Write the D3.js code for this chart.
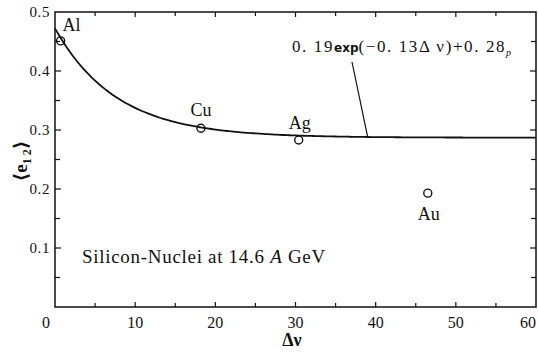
<!DOCTYPE html>
<html>
<head>
<meta charset="utf-8">
<script src="https://cdn.jsdelivr.net/npm/d3@7"></script>
<style>
  body { margin: 0; background: #fff; }
  text { font-family: "Liberation Serif", "DejaVu Serif", serif; fill: #111; }
</style>
</head>
<body>
<svg id="chart" width="538" height="355"></svg>
<script>
// data
const nuclei = ["Al", "Cu", "Ag", "Au"];
const deltaNu = [0.7, 18.2, 30.4, 46.5];
const e12 = [0.451, 0.303, 0.283, 0.193];
// fitted curve as drawn: a*exp(-b*dv)+c
const fitA = 0.185, fitB = 0.13, fitC = 0.287;
const xTicks = [0, 10, 20, 30, 40, 50, 60];
const yTicks = [0.1, 0.2, 0.3, 0.4, 0.5];

const plotL = 55, plotR = 536, plotT = 12, plotB = 307;

const svg = d3.select("#chart");
const x = d3.scaleLinear().domain([0, 60]).range([plotL, plotR]);
const y = d3.scaleLinear().domain([0, 0.5]).range([plotB, plotT]);

// frame
svg.append("rect")
  .attr("x", plotL).attr("y", plotT)
  .attr("width", plotR - plotL).attr("height", plotB - plotT)
  .attr("fill", "none").attr("stroke", "#111").attr("stroke-width", 1.5);

// inward ticks on all four sides
const minorX = d3.range(5, 60, 5);
const minorY = d3.range(0.05, 0.5, 0.05);
minorX.forEach(v => {
  const len = v % 10 === 0 ? 5 : 4;
  svg.append("line").attr("x1", x(v)).attr("x2", x(v))
    .attr("y1", plotB).attr("y2", plotB - len)
    .attr("stroke", "#111").attr("stroke-width", 1.2);
  svg.append("line").attr("x1", x(v)).attr("x2", x(v))
    .attr("y1", plotT).attr("y2", plotT + len)
    .attr("stroke", "#111").attr("stroke-width", 1.2);
});
minorY.forEach(v => {
  const major = Math.abs(v * 10 - Math.round(v * 10)) < 1e-6;
  const len = major ? 6 : 5;
  svg.append("line").attr("x1", plotL).attr("x2", plotL + len)
    .attr("y1", y(v)).attr("y2", y(v))
    .attr("stroke", "#111").attr("stroke-width", 1.2);
  svg.append("line").attr("x1", plotR).attr("x2", plotR - len)
    .attr("y1", y(v)).attr("y2", y(v))
    .attr("stroke", "#111").attr("stroke-width", 1.2);
});

// tick labels
svg.selectAll(".xl").data(xTicks).enter().append("text")
  .attr("x", d => x(d) - (d === 0 ? 9 : d === 60 ? 8 : 0))
  .attr("y", plotB + 21)
  .attr("text-anchor", "middle")
  .attr("font-size", "16px")
  .text(d => d);

svg.selectAll(".yl").data(yTicks).enter().append("text")
  .attr("x", plotL - 5)
  .attr("y", d => y(d) + 5)
  .attr("text-anchor", "end")
  .attr("font-size", "15px")
  .attr("letter-spacing", "0.6")
  .text(d => d.toFixed(1));

// axis titles
svg.append("text")
  .attr("x", 292).attr("y", 346)
  .attr("text-anchor", "middle")
  .attr("font-size", "18px")
  .attr("font-weight", "bold")
  .text("Δν");

const yl = svg.append("text")
  .attr("transform", "translate(27,161) rotate(-90)")
  .attr("text-anchor", "middle")
  .attr("font-size", "19px")
  .attr("font-weight", "bold");
yl.append("tspan").text("⟨e");
yl.append("tspan").attr("font-size", "12px").attr("dy", 4).text("1 2");
yl.append("tspan").attr("dy", -4).text("⟩");

// fitted curve
const curveX = d3.range(0, 60.01, 0.5);
const line = d3.line()
  .x(d => x(d))
  .y(d => y(fitA * Math.exp(-fitB * d) + fitC))
  .curve(d3.curveBasis);
svg.append("path")
  .datum(curveX)
  .attr("d", line)
  .attr("fill", "none")
  .attr("stroke", "#111")
  .attr("stroke-width", 1.8);

// data points
svg.selectAll(".pt").data(deltaNu).enter().append("circle")
  .attr("cx", d => x(d))
  .attr("cy", (d, i) => y(e12[i]))
  .attr("r", 4)
  .attr("fill", "none")
  .attr("stroke", "#111")
  .attr("stroke-width", 1.4);

// point labels
const labelDx = [11, 0, 1, 1];
const labelDy = [-10, -12, -11, 27];
svg.selectAll(".nl").data(nuclei).enter().append("text")
  .attr("x", (d, i) => x(deltaNu[i]) + labelDx[i])
  .attr("y", (d, i) => y(e12[i]) + labelDy[i])
  .attr("text-anchor", "middle")
  .attr("font-size", "18px")
  .text(d => d);

// formula annotation with leader line
svg.append("line")
  .attr("x1", 352).attr("y1", 62)
  .attr("x2", x(39)).attr("y2", y(fitA * Math.exp(-fitB * 39) + fitC))
  .attr("stroke", "#111").attr("stroke-width", 1.2);

const f = svg.append("text")
  .attr("x", 292).attr("y", 52)
  .attr("font-size", "17px")
  .attr("letter-spacing", "1.6");
f.append("tspan").text("0. 19");
f.append("tspan").attr("font-size", "12px").attr("font-weight", "bold")
  .attr("letter-spacing", "0")
  .attr("font-family", "DejaVu Sans, sans-serif").text("exp");
f.append("tspan").text("(−0. 13Δ  ν)+0. 28");
f.append("tspan").attr("font-size", "10px").attr("dy", 4).attr("font-style", "italic").text("p");

// inner caption
const c = svg.append("text")
  .attr("x", 82).attr("y", 263)
  .attr("font-size", "19px")
  .attr("letter-spacing", "0.7");
c.append("tspan").text("Silicon-Nuclei at 14.6 ");
c.append("tspan").attr("font-style", "italic").text("A");
c.append("tspan").text("  GeV");
</script>
</body>
</html>
